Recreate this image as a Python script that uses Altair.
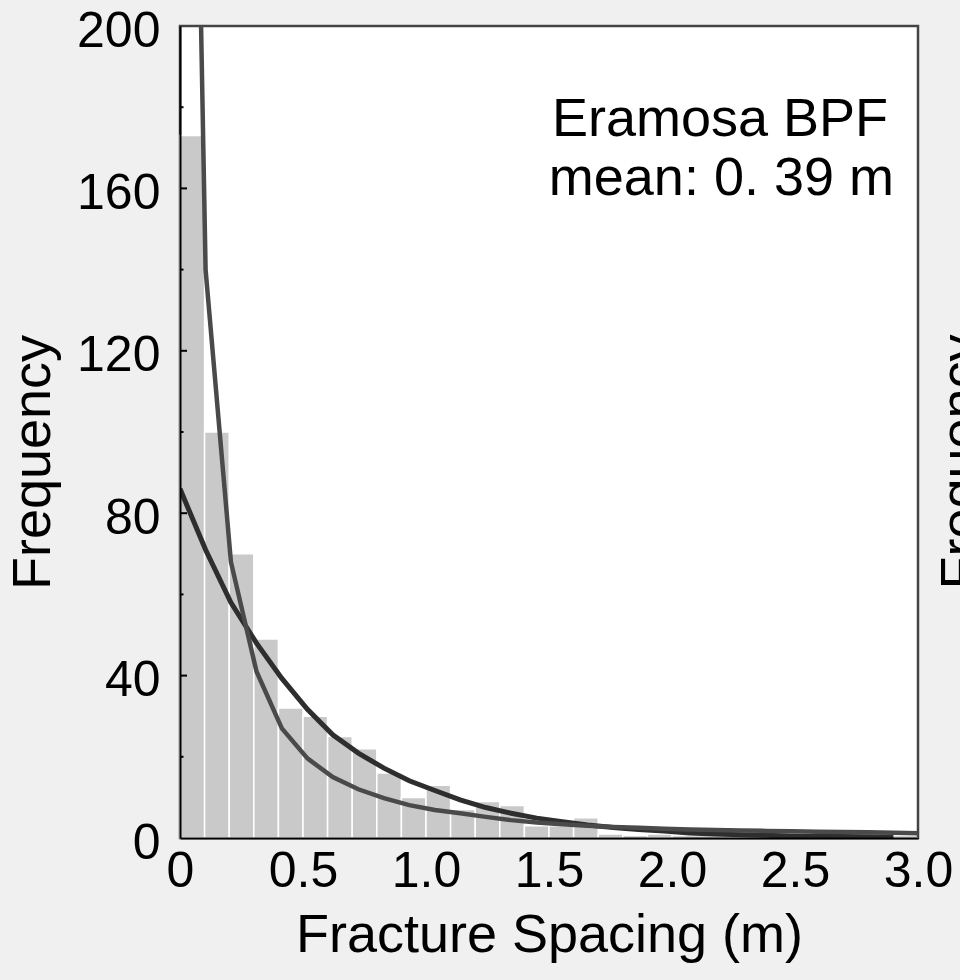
import altair as alt
import pandas as pd

# ---- data ----
bin_start = [0.0, 0.1, 0.2, 0.3, 0.4, 0.5, 0.6, 0.7, 0.8, 0.9,
             1.0, 1.1, 1.2, 1.3, 1.4, 1.5, 1.6, 1.7, 1.8, 1.9,
             2.0, 2.1, 2.2, 2.3, 2.4, 2.5, 2.6, 2.7, 2.8, 2.9]
bin_end = [0.1, 0.2, 0.3, 0.4, 0.5, 0.6, 0.7, 0.8, 0.9, 1.0,
           1.1, 1.2, 1.3, 1.4, 1.5, 1.6, 1.7, 1.8, 1.9, 2.0,
           2.1, 2.2, 2.3, 2.4, 2.5, 2.6, 2.7, 2.8, 2.9, 3.0]
counts = [173, 100, 70, 49, 32, 30, 25, 22, 16, 10,
          13, 7, 9, 8, 3, 3, 5, 1, 0, 1,
          0, 0, 0, 0, 0, 0, 0, 0, 0, 0]

curve_x = [0.000, 0.104, 0.207, 0.311, 0.414, 0.518, 0.621, 0.725, 0.829, 0.932,
           1.036, 1.139, 1.243, 1.346, 1.450, 1.554, 1.657, 1.761, 1.864, 1.968,
           2.071, 2.175, 2.279, 2.382, 2.486, 2.589, 2.693, 2.796, 2.900]
exp_fit = [86, 71, 58, 48, 39.3, 31.7, 25.4, 20.9, 17.2, 14.1,
           11.7, 9.4, 7.5, 6.1, 4.9, 4.0, 3.2, 2.6, 2.1, 1.7,
           1.2, 1.0, 0.8, 0.65, 0.5, 0.4, 0.35, 0.3, 0.25]
power_x = curve_x + [3.0]
power_fit = [480, 140, 68, 41, 27, 19.6, 15, 12, 9.8, 8.1,
             6.9, 6.1, 5.2, 4.4, 3.8, 3.4, 3.0, 2.7, 2.5, 2.3,
             2.1, 2.0, 1.85, 1.75, 1.65, 1.55, 1.45, 1.4, 1.3, 1.2]

major_ticks = [40, 80, 120, 160]
minor_ticks = [20, 60, 100, 140, 180]
x_tick_values = [0, 0.5, 1.0, 1.5, 2.0, 2.5, 3.0]
y_tick_values = [0, 40, 80, 120, 160, 200]

FONT = "Liberation Sans"

bars_df = pd.DataFrame({"start": bin_start, "end": bin_end, "count": counts})
exp_df = pd.DataFrame({"x": curve_x, "y": exp_fit})
pow_df = pd.DataFrame({"x": power_x, "y": power_fit})
major_df = pd.DataFrame({"v": major_ticks})
minor_df = pd.DataFrame({"v": minor_ticks})

xscale = alt.Scale(domain=[0, 3.0], nice=False, zero=False)
yscale = alt.Scale(domain=[0, 200], nice=False)

xaxis = alt.Axis(
    values=x_tick_values,
    labelExpr="datum.value == 0 ? '0' : format(datum.value, '.1f')",
    ticks=False, grid=False, zindex=1,
    labelFontSize=50, labelFont=FONT, labelColor="black", labelPadding=8,
    labelFlush=False, labelOverlap=False,
    domainColor="black", domainWidth=2,
    title="Fracture Spacing (m)", titleFontSize=54, titleFont=FONT,
    titleFontWeight="normal", titleColor="black", titlePadding=12,
)
yaxis = alt.Axis(
    values=y_tick_values,
    ticks=False, grid=False, zindex=1,
    labelFontSize=50, labelFont=FONT, labelColor="black", labelPadding=20,
    labelFlush=False, labelOverlap=False, labelOffset=5,
    domainColor="black", domainWidth=2,
    title="Frequency", titleFontSize=54, titleFont=FONT,
    titleFontWeight="normal", titleColor="black", titlePadding=16,
    titleY=436,
)

bars = alt.Chart(bars_df).mark_bar(
    color="#c9c9c9", stroke="white", strokeWidth=1.5
).encode(
    x=alt.X("start:Q", scale=xscale, axis=xaxis),
    x2="end:Q",
    y=alt.Y("count:Q", scale=yscale, axis=yaxis),
    y2=alt.datum(0),
)

major = alt.Chart(major_df).mark_rule(color="black", strokeWidth=2).encode(
    y=alt.Y("v:Q", scale=yscale), x=alt.value(0), x2=alt.value(7)
)
minor = alt.Chart(minor_df).mark_rule(color="black", strokeWidth=2).encode(
    y=alt.Y("v:Q", scale=yscale), x=alt.value(0), x2=alt.value(3.5)
)

exp_line = alt.Chart(exp_df).mark_line(
    color="#2e2e2e", strokeWidth=5, clip=True
).encode(x=alt.X("x:Q", scale=xscale), y=alt.Y("y:Q", scale=yscale))

pow_line = alt.Chart(pow_df).mark_line(
    color="#4a4a4a", strokeWidth=4.5, clip=True
).encode(x=alt.X("x:Q", scale=xscale), y=alt.Y("y:Q", scale=yscale))

label1 = alt.Chart(pd.DataFrame({"t": ["Eramosa BPF"]})).mark_text(
    align="right", baseline="alphabetic", fontSize=54, font=FONT, color="black"
).encode(text="t:N", x=alt.value(708), y=alt.value(110))
label2 = alt.Chart(pd.DataFrame({"t": ["mean: 0. 39 m"]})).mark_text(
    align="right", baseline="alphabetic", fontSize=54, font=FONT, color="black"
).encode(text="t:N", x=alt.value(714), y=alt.value(169))

# partially visible y title of the neighbouring panel
neighbour = alt.Chart(pd.DataFrame({"t": ["Frequency"]})).mark_text(
    align="center", baseline="top", angle=270, fontSize=54, font=FONT, color="black"
).encode(text="t:N", x=alt.value(755), y=alt.value(436))

chart = alt.layer(
    bars, major, minor, exp_line, pow_line, label1, label2, neighbour
).properties(
    width=738, height=812,
    autosize=alt.AutoSizeParams(type="none"),
    padding={"left": 180, "top": 26, "right": 42, "bottom": 142},
    background="#f0f0f0",
).configure_view(
    fill="white", stroke="#444444", strokeWidth=2.5
)

chart.save("out.html", embed_options={"renderer": "svg", "actions": False})
